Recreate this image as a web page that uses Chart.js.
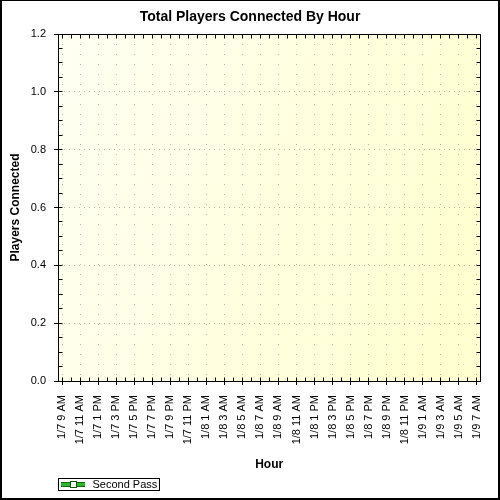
<!DOCTYPE html>
<html>
<head>
<meta charset="utf-8">
<script src="https://cdn.jsdelivr.net/npm/chart.js@4.4.0/dist/chart.umd.min.js"></script>
<style>
  html, body { margin: 0; padding: 0; background: #fff; }
  canvas { display: block; }
</style>
</head>
<body>
<canvas id="chartJugadores" width="500" height="500"></canvas>
<script>
// etiquetas del eje X, una cada dos horas desde 1/7 9 AM
const hourLabels = ['1/7 9 AM', '1/7 11 AM', '1/7 1 PM', '1/7 3 PM', '1/7 5 PM', '1/7 7 PM', '1/7 9 PM', '1/7 11 PM',
  '1/8 1 AM', '1/8 3 AM', '1/8 5 AM', '1/8 7 AM', '1/8 9 AM', '1/8 11 AM', '1/8 1 PM', '1/8 3 PM',
  '1/8 5 PM', '1/8 7 PM', '1/8 9 PM', '1/8 11 PM', '1/9 1 AM', '1/9 3 AM', '1/9 5 AM', '1/9 7 AM'];
const yTickLabels = ['0.0', '0.2', '0.4', '0.6', '0.8', '1.0', '1.2'];
const seriesNames = ['Second Pass'];
const secondPass = []; // la serie no tiene puntos en la imagen original

const FUENTE = '"Liberation Sans", Arial, sans-serif';
const GRIS = 'rgba(0,0,0,0.28)';

// marcador de la leyenda: linea verde con cuadrito blanco
const marcador = document.createElement('canvas');
marcador.width = 26;
marcador.height = 7;
const m = marcador.getContext('2d');
m.fillStyle = '#0a6e0a';
m.fillRect(0, 1, 24, 5);
m.fillStyle = '#2fb52f';
m.fillRect(0, 2, 24, 3);
m.fillStyle = '#fff';
m.fillRect(9, 0, 7, 7);
m.strokeStyle = '#0a5a0a';
m.lineWidth = 1;
m.strokeRect(9.5, 0.5, 6, 6);

const fondoYMarco = {
  id: 'fondoYMarco',
  afterLayout(chart) {
    // acomodar titulo y leyenda como en la imagen
    chart.titleBlock.right = chart.width;
    chart.legend.left = 51;
  },
  beforeDraw(chart) {
    const { ctx, chartArea: a } = chart;
    const g = ctx.createLinearGradient(a.left, a.top, a.right, a.top + (a.bottom - a.top) * 0.4);
    g.addColorStop(0, '#fffff3');
    g.addColorStop(1, '#ffffd2');
    ctx.save();
    ctx.fillStyle = g;
    ctx.fillRect(a.left, a.top, a.right - a.left, a.bottom - a.top);
    ctx.restore();
  },
  afterDraw(chart) {
    const { ctx, chartArea: a } = chart;
    const sx = chart.scales.x, sy = chart.scales.y;
    const al = p => Math.round(p - 0.5) + 0.5;
    ctx.save();
    ctx.strokeStyle = '#000';
    ctx.lineWidth = 1;
    ctx.beginPath();
    // marco del area
    ctx.moveTo(al(a.left), al(a.top));
    ctx.lineTo(al(a.right), al(a.top));
    ctx.lineTo(al(a.right), al(a.bottom));
    // ticks interiores en los cuatro lados
    sx.ticks.forEach(t => {
      const px = al(sx.getPixelForValue(t.value));
      ctx.moveTo(px, al(a.bottom)); ctx.lineTo(px, al(a.bottom) - 4);
      ctx.moveTo(px, al(a.top)); ctx.lineTo(px, al(a.top) + 4);
    });
    sy.ticks.forEach(t => {
      const py = al(sy.getPixelForValue(t.value));
      ctx.moveTo(al(a.left), py); ctx.lineTo(al(a.left) + 4, py);
      ctx.moveTo(al(a.right), py); ctx.lineTo(al(a.right) - 4, py);
    });
    ctx.stroke();

    // recuadro de la leyenda
    const hb = chart.legend.legendHitBoxes[0];
    if (hb) {
      ctx.strokeRect(Math.round(hb.left) - 3 + 0.5, Math.round(hb.top) - 1 + 0.5, Math.round(hb.width) + 5, Math.round(hb.height) + 1);
    }

    // borde exterior
    ctx.fillStyle = '#000';
    ctx.fillRect(0, 0, chart.width, 1);
    ctx.fillRect(0, 0, 2, chart.height);
    ctx.fillRect(chart.width - 2, 0, 2, chart.height);
    ctx.fillRect(0, chart.height - 2, chart.width, 2);
    ctx.restore();
  }
};

Chart.defaults.font.family = FUENTE;
Chart.defaults.color = '#000';

new Chart(document.getElementById('chartJugadores').getContext('2d'), {
  type: 'line',
  data: {
    datasets: [{
      label: seriesNames[0],
      data: secondPass,
      borderColor: '#0a8a0a',
      backgroundColor: '#fff',
      pointStyle: 'rect',
      borderWidth: 2
    }]
  },
  options: {
    responsive: false,
    animation: false,
    layout: { padding: { left: 0, right: 17, top: 0, bottom: 0 } },
    plugins: {
      title: {
        display: true,
        text: 'Total Players Connected By Hour',
        color: '#000',
        font: { size: 14, weight: 'bold' },
        padding: { top: 9, bottom: 8.2 }
      },
      legend: {
        position: 'bottom',
        align: 'start',
        labels: {
          usePointStyle: true,
          pointStyle: marcador,
          pointStyleWidth: 26,
          boxHeight: 11,
          padding: 10,
          color: '#000',
          font: { size: 11 }
        }
      },
      tooltip: { enabled: false }
    },
    scales: {
      x: {
        type: 'linear',
        min: -0.47,
        max: 46.4,
        afterBuildTicks: s => {
          const t = [];
          for (let h = 0; h <= (hourLabels.length - 1) * 2; h++) t.push({ value: h });
          s.ticks = t;
        },
        afterFit: s => { s.height = s.chart.height - s.chart.legend.height - 381; },
        ticks: {
          autoSkip: false,
          minRotation: 90,
          maxRotation: 90,
          padding: 10,
          font: { size: 11 },
          callback: v => (v % 2 === 0 ? hourLabels[v / 2] : '')
        },
        grid: {
          drawTicks: true,
          tickLength: 4,
          color: c => (c.tick && c.tick.value % 2 === 0 ? GRIS : 'transparent'),
          tickColor: c => (c.tick && c.tick.value % 2 === 0 ? '#000' : 'transparent')
        },
        border: { display: true, color: '#000', width: 1, dash: [1, 9] },
        title: {
          display: true,
          text: 'Hour',
          font: { size: 12, weight: 'bold', lineHeight: 0.7 },
          padding: { top: 0, bottom: 0 }
        }
      },
      y: {
        type: 'linear',
        min: 0,
        max: 1.2,
        afterBuildTicks: s => {
          const t = [];
          for (let i = 0; i <= (yTickLabels.length - 1) * 4; i++) t.push({ value: i / 20 });
          s.ticks = t;
        },
        afterFit: s => { s.width = 58; },
        ticks: {
          autoSkip: false,
          padding: 8,
          font: { size: 11 },
          callback: (v, i) => (i % 4 === 0 ? yTickLabels[i / 4] : '')
        },
        grid: {
          drawTicks: true,
          tickLength: 4,
          color: c => (c.index % 4 === 0 && c.index !== 0 && c.index !== 24 ? GRIS : 'transparent'),
          tickColor: c => (c.index % 4 === 0 ? '#000' : 'transparent')
        },
        border: { display: true, color: '#000', width: 1, dash: [1, 4] },
        title: {
          display: true,
          text: 'Players Connected',
          font: { size: 12, weight: 'bold' },
          padding: { top: 8, bottom: 0 }
        }
      }
    }
  },
  plugins: [fondoYMarco]
});
</script>
</body>
</html>
